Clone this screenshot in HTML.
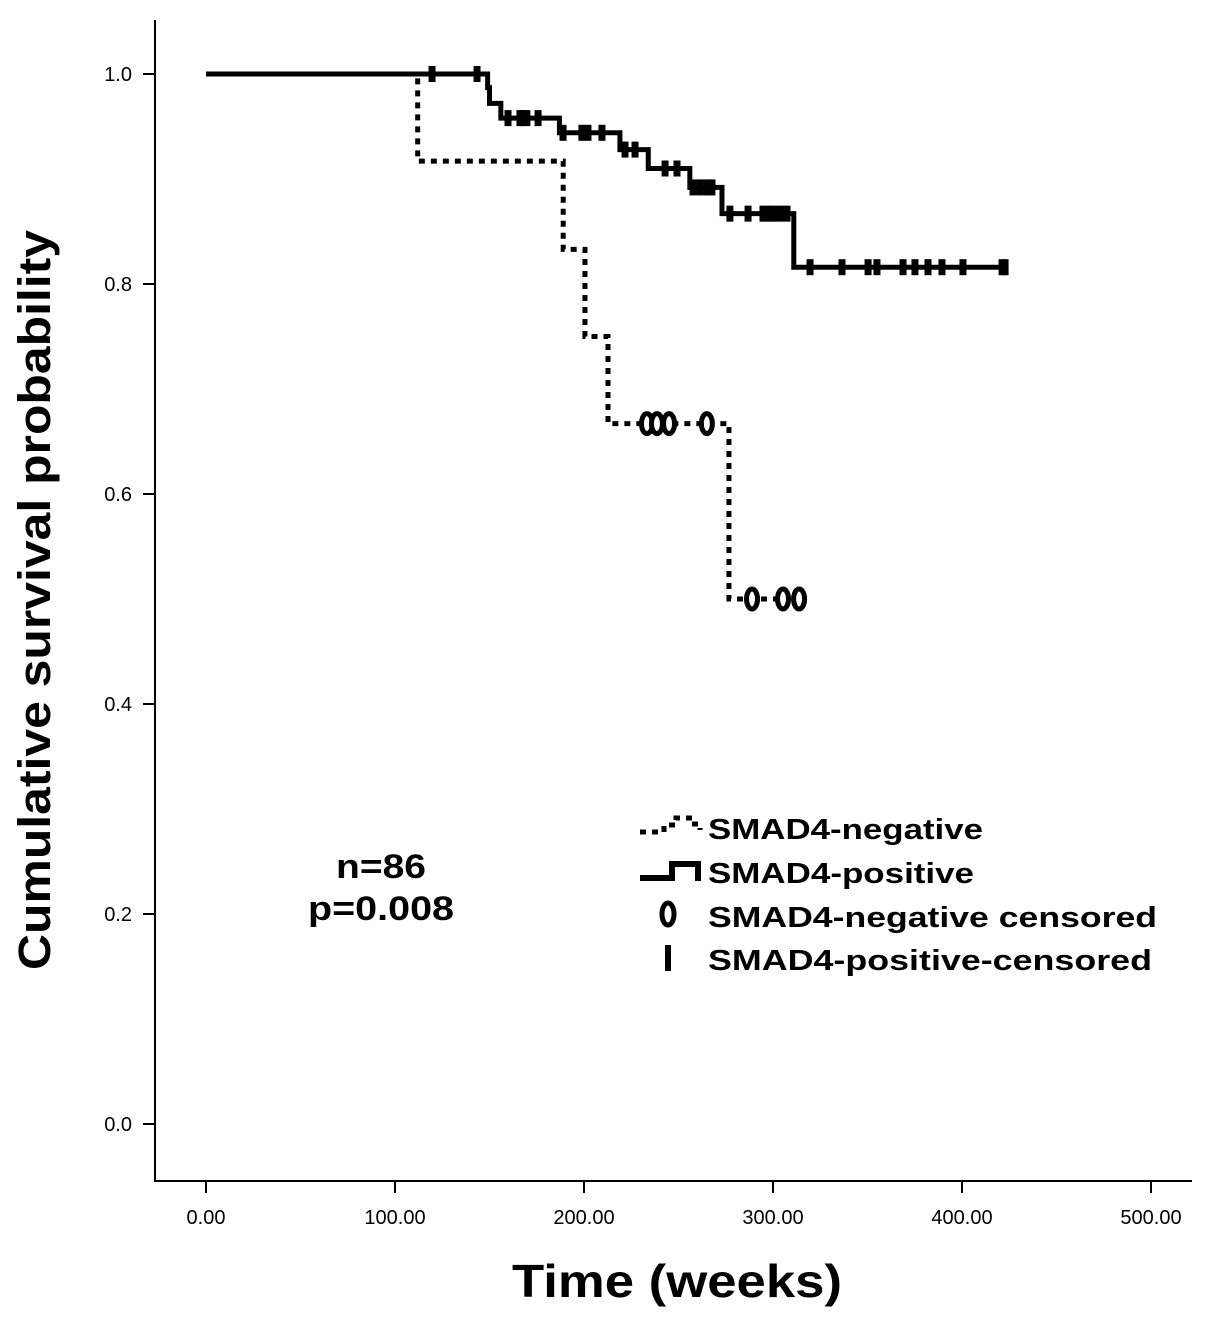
<!DOCTYPE html>
<html><head><meta charset="utf-8"><style>
body{margin:0;background:#fff}
svg{display:block}
text{font-family:"Liberation Sans",Arial,sans-serif;fill:#000}
</style></head><body>
<svg id="chart" width="1205" height="1322" viewBox="0 0 1205 1322" xmlns="http://www.w3.org/2000/svg">
<g id="axes"></g>
<g id="plot"></g>
<text transform="translate(50,600) rotate(-90)" text-anchor="middle" font-size="45" font-weight="bold" textLength="740" lengthAdjust="spacingAndGlyphs">Cumulative survival probability</text>
<text x="677" y="1297" text-anchor="middle" font-size="46" font-weight="bold" textLength="330" lengthAdjust="spacingAndGlyphs">Time (weeks)</text>
<text x="381" y="878" text-anchor="middle" font-size="34" font-weight="bold" textLength="90" lengthAdjust="spacingAndGlyphs">n=86</text>
<text x="381" y="920" text-anchor="middle" font-size="34" font-weight="bold" textLength="146" lengthAdjust="spacingAndGlyphs">p=0.008</text>
<g>
 <g>
  <polyline points="640,832 664,832 664,825 676,825 676,818 692,818 692,824 700,824 700,830" fill="none" stroke="#000" stroke-width="5" stroke-dasharray="6 6"/>
  <text x="708" y="839" font-size="29" font-weight="bold" textLength="275" lengthAdjust="spacingAndGlyphs">SMAD4-negative</text>
 </g>
 <g>
  <polyline points="640,878 672,878 672,864 698,864 698,881" fill="none" stroke="#000" stroke-width="6"/>
  <text x="708" y="883" font-size="29" font-weight="bold" textLength="266" lengthAdjust="spacingAndGlyphs">SMAD4-positive</text>
 </g>
 <g>
  <ellipse cx="668" cy="914" rx="6" ry="11" fill="none" stroke="#000" stroke-width="5"/>
  <text x="708" y="927" font-size="29" font-weight="bold" textLength="449" lengthAdjust="spacingAndGlyphs">SMAD4-negative censored</text>
 </g>
 <g>
  <rect x="665" y="945" width="6" height="26" fill="#000"/>
  <text x="708" y="970" font-size="29" font-weight="bold" textLength="444" lengthAdjust="spacingAndGlyphs">SMAD4-positive-censored</text>
 </g>
</g>
</svg>
<script>
const xTicks=[0,100,200,300,400,500];
const xTickLabels=["0.00","100.00","200.00","300.00","400.00","500.00"];
const yTicks=[0,0.2,0.4,0.6,0.8,1.0];
const yTickLabels=["0.0","0.2","0.4","0.6","0.8","1.0"];
// positive group: event times and survival after each event
const posTimes=[149,150,156,187,219,234,256,273,311];
const posSurv=[0.987,0.972,0.958,0.944,0.928,0.910,0.892,0.867,0.816];
const posEnd=423;
const posCensored=[119.6,143.4,159.8,166.1,167.7,169.8,175.7,188.9,198.9,202.1,209.5,221.7,227,242.9,249.2,257.7,261.4,265.1,267.7,277.2,286.8,294.7,297.4,300,303.7,307.4,319.6,336.5,350.3,355,368.8,375.1,382,389.4,400.5,421.2,422.8];
// negative group
const negTimes=[112,189,200.5,212.7,276.7];
const negSurv=[0.917,0.833,0.75,0.667,0.5];
const negEnd=316;
const negCensored=[233.3,238.6,245,265,288.9,305.3,313.8];

const NS="http://www.w3.org/2000/svg";
const X=t=>206+t*1.89;
const Y=s=>1124-s*1050;
function mk(tag,attrs,parent){const e=document.createElementNS(NS,tag);for(const k in attrs)e.setAttribute(k,attrs[k]);parent.appendChild(e);return e;}
const axes=document.getElementById('axes'),plot=document.getElementById('plot');
let a=mk('line',{x1:155,y1:20,x2:155,y2:1182,stroke:'#000','stroke-width':2},axes);


a=mk('line',{x1:154,y1:1181,x2:1192,y2:1181,stroke:'#000','stroke-width':2},axes);


xTicks.forEach((v,i)=>{
 const l=mk('line',{x1:X(v),y1:1181,x2:X(v),y2:1193,stroke:'#000','stroke-width':2},axes);
 
 
 const t=mk('text',{x:X(v),y:1224,'text-anchor':'middle','font-size':20},axes);
 t.textContent=xTickLabels[i];
 
 
});
yTicks.forEach((v,i)=>{
 const l=mk('line',{x1:143,y1:Y(v),x2:155,y2:Y(v),stroke:'#000','stroke-width':2},axes);
 
 
 const t=mk('text',{x:132,y:Y(v)+7,'text-anchor':'end','font-size':20},axes);
 t.textContent=yTickLabels[i];
 
 
});
function stepPts(times,surv,end){
 let p=[[X(0),Y(1)]],s=1;
 times.forEach((t,i)=>{p.push([X(t),Y(s)]);s=surv[i];p.push([X(t),Y(s)]);});
 p.push([X(end),Y(s)]);
 return p.map(q=>q.join(',')).join(' ');
}
function survAt(times,surv,t){let s=1;times.forEach((tt,i)=>{if(tt<=t)s=surv[i];});return s;}
let n=mk('polyline',{points:stepPts(negTimes,negSurv,negEnd),fill:'none',stroke:'#000','stroke-width':5,'stroke-dasharray':'6 6'},plot);


let p=mk('polyline',{points:stepPts(posTimes,posSurv,posEnd),fill:'none',stroke:'#000','stroke-width':5},plot);


posCensored.forEach(t=>{
 const r=mk('rect',{x:X(t)-3.5,y:Y(survAt(posTimes,posSurv,t))-8,width:7,height:16,fill:'#000'},plot);
 
 
});
negCensored.forEach(t=>{
 const e=mk('ellipse',{cx:X(t),cy:Y(survAt(negTimes,negSurv,t)),rx:5.5,ry:10,fill:'#fff',stroke:'#000','stroke-width':5},plot);
 
 
});
</script>
</body></html>
